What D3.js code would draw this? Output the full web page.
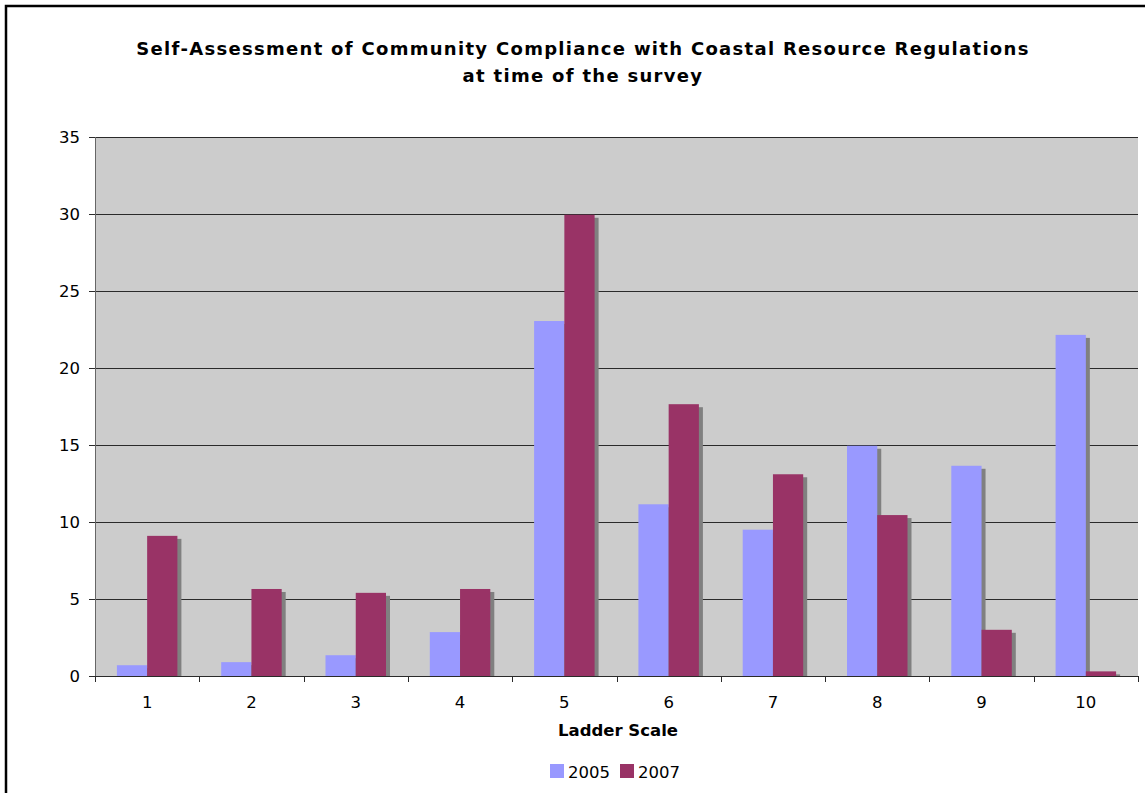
<!DOCTYPE html>
<html>
<head>
<meta charset="utf-8">
<script src="https://cdn.jsdelivr.net/npm/d3@7"></script>
<style>
  html, body { margin: 0; padding: 0; background: #fff; }
  svg { display: block; font-family: "DejaVu Sans", Verdana, sans-serif; }
</style>
</head>
<body>
<svg id="chart" width="1145" height="793"></svg>
<script>
// Ladder scale ratings (percent of respondents)
const categories = ["1", "2", "3", "4", "5", "6", "7", "8", "9", "10"];
const seriesNames = ["2005", "2007"];
const values2005 = [0.7, 0.9, 1.35, 2.85, 23.05, 11.15, 9.5, 14.95, 13.65, 22.15];
const values2007 = [9.1, 5.65, 5.4, 5.65, 29.95, 17.65, 13.1, 10.45, 3.0, 0.3];
const yTicks = [0, 5, 10, 15, 20, 25, 30, 35];
const titleLines = [
  "Self-Assessment of Community Compliance with Coastal Resource Regulations",
  "at time of the survey"
];
const xAxisTitle = "Ladder Scale";

const colors = { "2005": "#9999FF", "2007": "#993366" };

const svg = d3.select("#chart");

// Outer chart frame
svg.append("rect")
  .attr("x", 6).attr("y", 6)
  .attr("width", 1160).attr("height", 820)
  .attr("fill", "#fff").attr("stroke", "#000").attr("stroke-width", 2.5);

const plot = { left: 95, right: 1138, top: 137, bottom: 676 };

const x0 = d3.scaleBand()
  .domain(categories)
  .range([plot.left, plot.right])
  .paddingInner(0.42)
  .paddingOuter(0.21);

const x1 = d3.scaleBand()
  .domain(seriesNames)
  .range([0, x0.bandwidth()]);

const y = d3.scaleLinear()
  .domain([0, 35])
  .range([plot.bottom, plot.top]);

// Plot background
svg.append("rect")
  .attr("x", plot.left).attr("y", plot.top)
  .attr("width", plot.right - plot.left).attr("height", plot.bottom - plot.top)
  .attr("fill", "#CCCCCC");

// Horizontal gridlines with outside ticks
const yAxis = d3.axisLeft(y)
  .tickValues(yTicks)
  .tickSize(-(plot.right - plot.left + 6))
  .tickPadding(9)
  .tickFormat(d3.format("d"));

const yg = svg.append("g")
  .attr("transform", `translate(${plot.left - 6},0)`)
  .call(yAxis);
yg.select(".domain").remove();
yg.selectAll(".tick line").attr("stroke", "#2a2a2a").attr("stroke-width", 1);
yg.selectAll(".tick text")
  .attr("font-size", 16.5)
  .attr("font-family", "DejaVu Sans, Verdana, sans-serif")
  .attr("fill", "#000");

// Vertical value axis line
svg.append("line")
  .attr("x1", plot.left + 0.5).attr("x2", plot.left + 0.5)
  .attr("y1", plot.top).attr("y2", plot.bottom + 6)
  .attr("stroke", "#666").attr("stroke-width", 1);

// Bars: shadows first, then fills
const rows = categories.map((c, i) => ({
  cat: c,
  vals: [
    { key: "2005", v: values2005[i] },
    { key: "2007", v: values2007[i] }
  ]
}));

const groups = svg.append("g").selectAll("g")
  .data(rows)
  .join("g")
  .attr("transform", d => `translate(${x0(d.cat)},0)`);

groups.selectAll("rect.shadow")
  .data(d => d.vals)
  .join("rect")
  .attr("class", "shadow")
  .attr("x", d => x1(d.key) + 4)
  .attr("y", d => y(d.v) + 3)
  .attr("width", x1.bandwidth())
  .attr("height", d => Math.max(0, y(0) - y(d.v) - 3))
  .attr("fill", "#808080");

groups.selectAll("rect.bar")
  .data(d => d.vals)
  .join("rect")
  .attr("class", "bar")
  .attr("x", d => x1(d.key))
  .attr("y", d => y(d.v))
  .attr("width", x1.bandwidth())
  .attr("height", d => y(0) - y(d.v))
  .attr("fill", d => colors[d.key]);

// Category axis: baseline, boundary ticks and labels
svg.append("line")
  .attr("x1", plot.left - 6).attr("x2", plot.right)
  .attr("y1", plot.bottom + 0.5).attr("y2", plot.bottom + 0.5)
  .attr("stroke", "#2a2a2a");

const step = x0.step();
const boundaries = categories.map(c => x0(c) - step * x0.paddingInner() / 2)
  .concat([x0(categories[categories.length - 1]) + x0.bandwidth() + step * x0.paddingInner() / 2]);

svg.append("g").selectAll("line")
  .data(boundaries)
  .join("line")
  .attr("x1", d => Math.round(d) + 0.5).attr("x2", d => Math.round(d) + 0.5)
  .attr("y1", plot.bottom).attr("y2", plot.bottom + 6)
  .attr("stroke", "#2a2a2a");

svg.append("g").selectAll("text")
  .data(categories)
  .join("text")
  .attr("x", d => x0(d) + x0.bandwidth() / 2)
  .attr("y", 708)
  .attr("text-anchor", "middle")
  .attr("font-size", 16.5)
  .attr("fill", "#000")
  .text(d => d);

// Axis title
svg.append("text")
  .attr("x", 618).attr("y", 736)
  .attr("text-anchor", "middle")
  .attr("font-size", 16.5)
  .attr("font-weight", "bold")
  .text(xAxisTitle);

// Chart title
svg.append("g").selectAll("text")
  .data(titleLines)
  .join("text")
  .attr("x", 583)
  .attr("y", (d, i) => 55 + i * 27)
  .attr("text-anchor", "middle")
  .attr("font-size", 18)
  .attr("letter-spacing", 1.3)
  .attr("font-weight", "bold")
  .text(d => d);

// Legend
const legend = svg.append("g");
const legendX = { "2005": 550, "2007": 620 };
seriesNames.forEach(name => {
  legend.append("rect")
    .attr("x", legendX[name]).attr("y", 764)
    .attr("width", 14).attr("height", 14)
    .attr("fill", colors[name]);
  legend.append("text")
    .attr("x", legendX[name] + 18).attr("y", 778)
    .attr("font-size", 16.5)
    .text(name);
});
</script>
</body>
</html>
